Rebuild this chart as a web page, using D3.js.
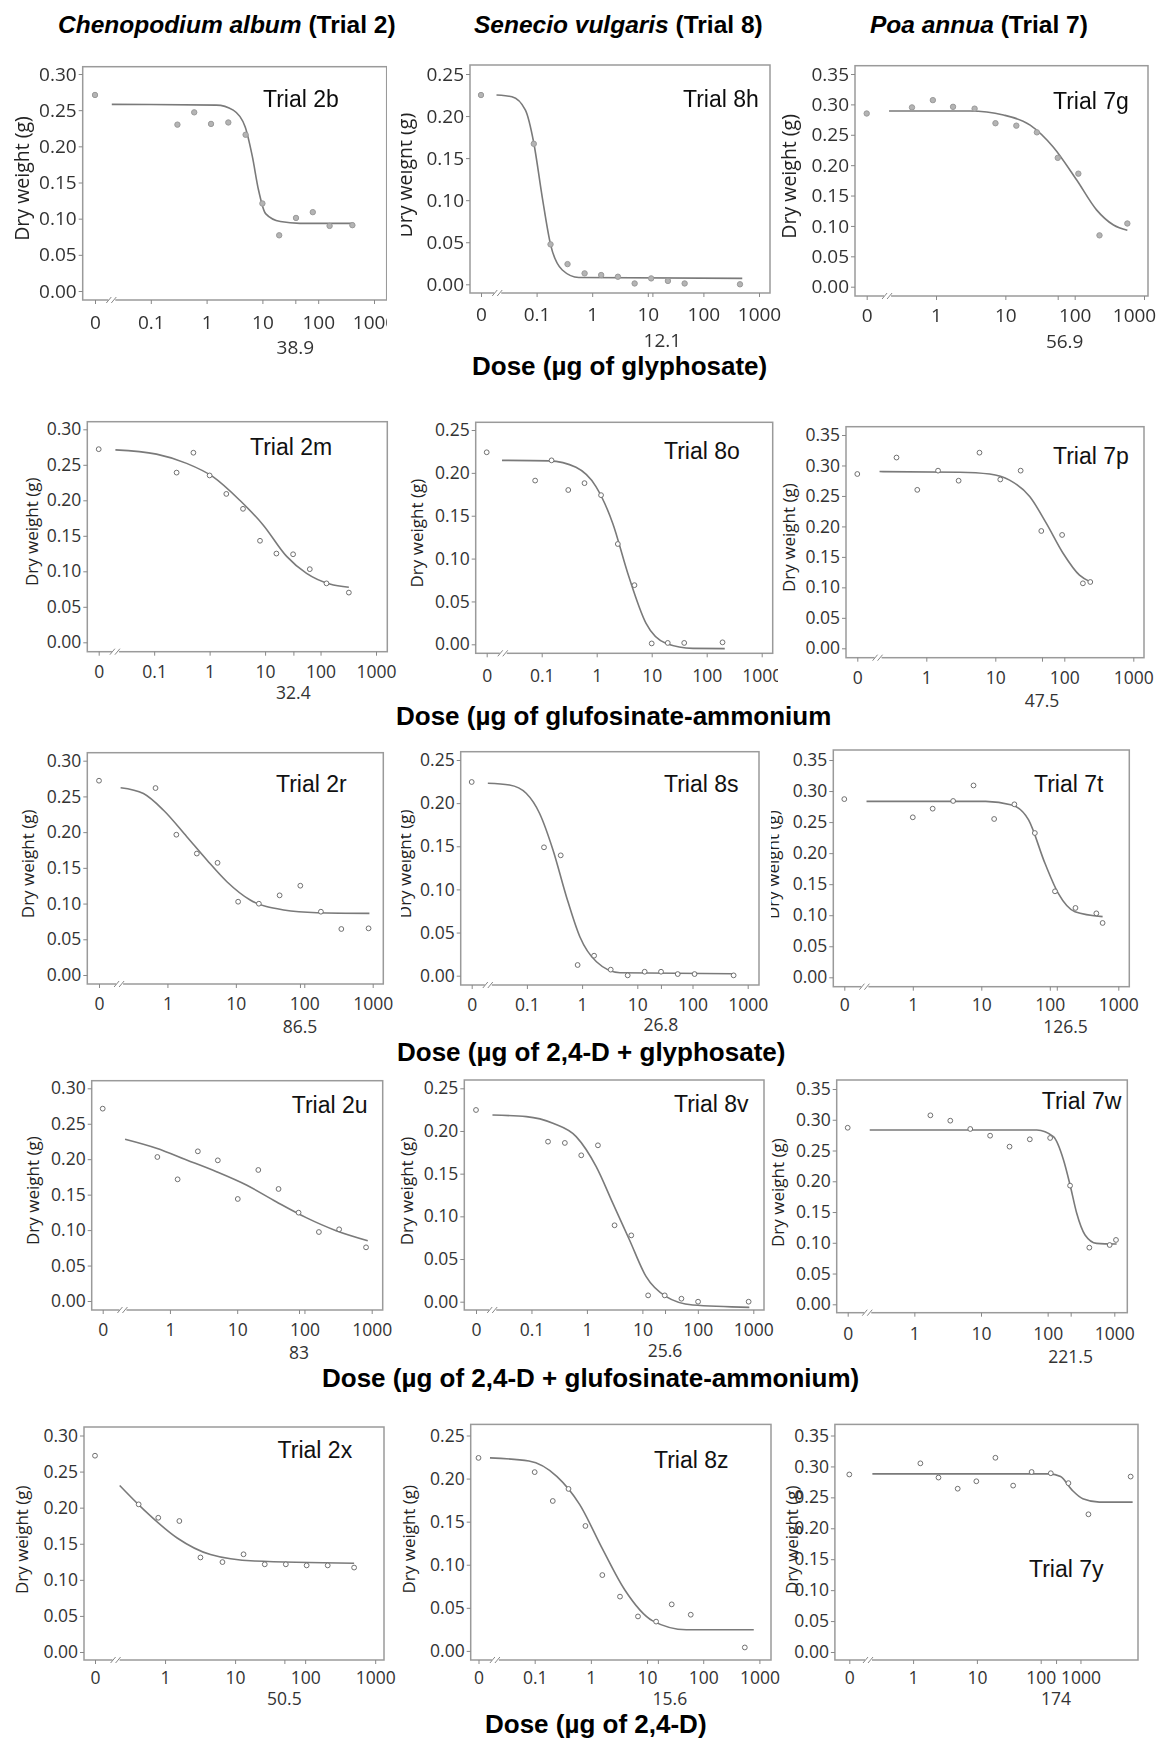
<!DOCTYPE html>
<html>
<head>
<meta charset="utf-8">
<script src="https://cdn.jsdelivr.net/npm/d3@7"></script>
<style>
  body { margin: 0; background: #fff; }
  svg { display: block; }
  .tick text { font-family: "Open Sans", sans-serif; fill: #333; }
</style>
</head>
<body>
<script>
// ---------------- data ----------------
// Column (species) titles: italic part, plain part
const speciesTitles = [
  ["Chenopodium album", " (Trial 2)"],
  ["Senecio vulgaris", " (Trial 8)"],
  ["Poa annua", " (Trial 7)"]
];
// Row (herbicide) titles
const doseTitles = [
  "Dose (µg of glyphosate)",
  "Dose (µg of glufosinate-ammonium",
  "Dose (µg of 2,4-D + glyphosate)",
  "Dose (µg of 2,4-D + glufosinate-ammonium)",
  "Dose (µg of 2,4-D)"
];
// Panels in reading order (row by row)
const trialNames = ["Trial 2b", "Trial 8h", "Trial 7g",
                    "Trial 2m", "Trial 8o", "Trial 7p",
                    "Trial 2r", "Trial 8s", "Trial 7t",
                    "Trial 2u", "Trial 8v", "Trial 7w",
                    "Trial 2x", "Trial 8z", "Trial 7y"];
const yMax = [0.30, 0.25, 0.35, 0.30, 0.25, 0.35, 0.30, 0.25, 0.35,
              0.30, 0.25, 0.35, 0.30, 0.25, 0.35];
// ED50 marked on the dose axis (null = not marked)
const ed50 = [38.9, 12.1, 56.9, 32.4, null, 47.5, 86.5, 26.8, 126.5,
              83, 25.6, 221.5, 50.5, 15.6, 174];
// Dose-axis tick values and their printed labels
const xTickDoses = [
  [0.1, 1, 10, 100, 1000], [0.1, 1, 10, 100, 1000], [1, 10, 100, 1000],
  [0.1, 1, 10, 100, 1000], [0.1, 1, 10, 100, 1000], [1, 10, 100, 1000],
  [1, 10, 100, 1000], [0.1, 1, 10, 100, 1000], [1, 10, 100, 1000],
  [1, 10, 100, 1000], [0.1, 1, 10, 100, 1000], [1, 10, 100, 1000],
  [1, 10, 100, 1000], [0.1, 1, 10, 100, 1000], [1, 10, 100, 420]
];
const xTickText = [
  ["0.1", "1", "10", "100", "1000"], ["0.1", "1", "10", "100", "1000"], ["1", "10", "100", "1000"],
  ["0.1", "1", "10", "100", "1000"], ["0.1", "1", "10", "100", "1000"], ["1", "10", "100", "1000"],
  ["1", "10", "100", "1000"], ["0.1", "1", "10", "100", "1000"], ["1", "10", "100", "1000"],
  ["1", "10", "100", "1000"], ["0.1", "1", "10", "100", "1000"], ["1", "10", "100", "1000"],
  ["1", "10", "100", "1000"], ["0.1", "1", "10", "100", "1000"], ["1", "10", "100", "1000"]
];
// Observed dry weights (g) by dose (µg); dose 0 = untreated control
const obsDose = [
  [0, 0.3, 0.6, 1.2, 2.45, 5, 10, 20, 40, 80, 160, 410],
  [0, 0.089, 0.178, 0.36, 0.73, 1.45, 2.9, 5.8, 11.5, 23, 46, 455],
  [0, 0.45, 0.9, 1.76, 3.6, 7.2, 14.4, 28.5, 57, 113, 228, 575],
  [0, 0.254, 0.51, 1.0, 2.0, 4.0, 8.1, 16, 32, 64, 128, 324],
  [0, 0.076, 0.151, 0.304, 0.60, 1.2, 2.42, 4.86, 10, 19.6, 39, 194],
  [0, 0.37, 0.74, 1.48, 2.94, 5.9, 11.8, 23.3, 46.4, 93, 186, 238],
  [0, 0.67, 1.35, 2.69, 5.4, 10.8, 21.7, 43.6, 87.5, 175, 348, 870],
  [0, 0.204, 0.41, 0.83, 1.65, 3.3, 6.7, 13.6, 26.9, 54, 109, 556],
  [0, 1.0, 1.95, 3.88, 7.7, 15.4, 30.4, 60.5, 119, 237, 478, 590],
  [0, 0.65, 1.3, 2.6, 5.15, 10.2, 20.6, 41.2, 81.8, 164, 328, 824],
  [0, 0.199, 0.40, 0.79, 1.58, 3.15, 6.3, 12.7, 25.3, 50.6, 101, 824],
  [0, 1.74, 3.46, 6.9, 13.7, 26.8, 54, 109, 217, 422, 852, 1060],
  [0, 0.42, 0.8, 1.6, 3.2, 6.6, 13.2, 26.5, 53, 105, 210, 500],
  [0, 0.1, 0.21, 0.4, 0.8, 1.6, 3.3, 6.9, 14.5, 27.5, 60, 550],
  [0, 1.3, 2.5, 5, 9.8, 19.5, 37, 72, 144, 272, 560, 2570]
];
const obsWeight = [
  [0.271, 0.230, 0.247, 0.231, 0.233, 0.216, 0.121, 0.077, 0.101, 0.109, 0.090, 0.091],
  [0.225, 0.167, 0.0475, 0.024, 0.013, 0.011, 0.009, 0.001, 0.007, 0.004, 0.001, 0.000],
  [0.285, 0.295, 0.307, 0.296, 0.293, 0.269, 0.265, 0.254, 0.212, 0.186, 0.0845, 0.104],
  [0.272, 0.239, 0.267, 0.235, 0.209, 0.188, 0.143, 0.125, 0.124, 0.103, 0.083, 0.070],
  [0.224, 0.191, 0.2146, 0.180, 0.188, 0.174, 0.117, 0.069, 0.001, 0.0016, 0.0016, 0.0023],
  [0.286, 0.313, 0.260, 0.2915, 0.275, 0.321, 0.277, 0.2915, 0.1925, 0.186, 0.1066, 0.1088],
  [0.272, 0.2617, 0.1964, 0.170, 0.157, 0.1026, 0.0998, 0.1115, 0.125, 0.0886, 0.0644, 0.0653],
  [0.2245, 0.1488, 0.1395, 0.0124, 0.0232, 0.007, 0.0004, 0.0046, 0.0046, 0.0019, 0.0019, 0.0004],
  [0.287, 0.2577, 0.2716, 0.284, 0.309, 0.255, 0.2786, 0.2324, 0.1385, 0.1117, 0.103, 0.0875],
  [0.2713, 0.2031, 0.1716, 0.2111, 0.1984, 0.1439, 0.1848, 0.158, 0.1246, 0.0973, 0.1011, 0.0757],
  [0.2246, 0.1875, 0.186, 0.1715, 0.1832, 0.0895, 0.0777, 0.0074, 0.0074, 0.0035, 0.0, 0.0],
  [0.287, 0.3072, 0.2985, 0.285, 0.2741, 0.2563, 0.2682, 0.2704, 0.1929, 0.0921, 0.0964, 0.1046],
  [0.272, 0.2046, 0.186, 0.1815, 0.131, 0.1246, 0.1354, 0.1215, 0.1215, 0.120, 0.120, 0.117],
  [0.224, 0.2075, 0.174, 0.188, 0.145, 0.088, 0.063, 0.040, 0.034, 0.054, 0.042, 0.004],
  [0.287, 0.305, 0.282, 0.264, 0.276, 0.314, 0.269, 0.291, 0.289, 0.273, 0.2226, 0.2836]
];
// Fitted dose-response curves, as knots along each fitted line
const fitDose = [
  [0.02, 1.5, 3, 4.9, 6.6, 8.5, 11.4, 21, 47, 430],
  [0.019, 0.036, 0.063, 0.089, 0.126, 0.178, 0.29, 0.575, 500],
  [0.21, 3.1, 9.4, 22.8, 49, 107, 208, 363, 575],
  [0.02, 0.11, 0.385, 1.16, 3.5, 9.3, 24.5, 56, 147, 324],
  [0.019, 0.137, 0.42, 0.97, 1.96, 3.67, 7.9, 18.4, 56, 213],
  [0.21, 3.04, 8.3, 16.1, 31.5, 55, 96, 166, 238],
  [0.207, 0.446, 0.87, 1.92, 3.77, 7.4, 16.2, 50, 153, 895],
  [0.0196, 0.0484, 0.097, 0.17, 0.297, 0.52, 0.91, 1.82, 4.84, 556],
  [0.211, 11.6, 28, 49, 85, 133, 233, 590],
  [0.215, 0.63, 1.77, 4.92, 13.7, 38, 106, 296, 874],
  [0.0198, 0.081, 0.244, 0.64, 1.47, 2.94, 5.86, 11.7, 26.8, 81, 847],
  [0.214, 68.7, 122, 173, 217, 273, 364, 543, 1084],
  [0.225, 0.5, 1.49, 4.45, 19, 500],
  [0.016, 0.079, 0.25, 0.63, 1.6, 4.0, 12.6, 50, 794],
  [0.23, 138, 205, 308, 457, 832, 2760]
];
const fitWeight = [
  [0.258, 0.257, 0.250, 0.227, 0.186, 0.140, 0.107, 0.096, 0.0935, 0.0935],
  [0.225, 0.223, 0.207, 0.168, 0.104, 0.0475, 0.017, 0.008, 0.007],
  [0.289, 0.289, 0.2825, 0.266, 0.230, 0.1755, 0.126, 0.1015, 0.093],
  [0.271, 0.265, 0.252, 0.233, 0.200, 0.165, 0.121, 0.097, 0.082, 0.0775],
  [0.2146, 0.214, 0.2065, 0.184, 0.141, 0.083, 0.0245, 0.001, -0.0047, -0.005],
  [0.290, 0.289, 0.286, 0.276, 0.249, 0.205, 0.156, 0.120, 0.109],
  [0.2622, 0.254, 0.231, 0.1936, 0.161, 0.1306, 0.105, 0.091, 0.0872, 0.0863],
  [0.223, 0.221, 0.2114, 0.188, 0.1457, 0.0916, 0.0452, 0.0162, 0.0035, 0.0023],
  [0.2834, 0.2834, 0.2775, 0.2534, 0.1836, 0.1353, 0.1057, 0.0977],
  [0.228, 0.2153, 0.1989, 0.1824, 0.1636, 0.140, 0.1176, 0.0992, 0.0851],
  [0.2187, 0.2168, 0.209, 0.1934, 0.1582, 0.1152, 0.0723, 0.0293, 0.0059, -0.0039, -0.0066],
  [0.2834, 0.2834, 0.2725, 0.2346, 0.194, 0.1479, 0.1127, 0.0991, 0.098],
  [0.2308, 0.197, 0.158, 0.135, 0.126, 0.123],
  [0.224, 0.2204, 0.2023, 0.170, 0.1186, 0.0709, 0.0348, 0.0245, 0.0245],
  [0.288, 0.288, 0.2836, 0.262, 0.2477, 0.2423, 0.2423]
];

// ---------------- layout ----------------
// b: plot frame [left, top, right, bottom]; xd/xr: log dose domain -> pixels
// (the lower domain end is where the 0-dose control sits); yr: pixels for [0, yMax]
const panelLayout = [
  {b:[82.7,66.7,386.7,300],   xd:[0.01,1000], xr:[95,374],       yr:[291,74],        yl:21.7,  tr:[263,107],    lab:22,   edY:47,   edDx:0,   clipR:386.5},
  {b:[470,65,770,293],        xd:[0.01,1000], xr:[481,759],      yr:[284.3,74],      yl:405,   tr:[683,107],    lab:21,   edY:47,   edDx:10,  clipL:401, clipR:781.5},
  {b:[855,65.7,1148,296],     xd:[0.1,1000],  xr:[866.7,1144],   yr:[286.7,74],      yl:789,   tr:[1053,109],   lab:19,   edY:45.7, edDx:7,   lastDx:-10},
  {b:[87.3,421.7,387.3,651.7],xd:[0.01,1000], xr:[98.7,376],     yr:[642.3,429.3],   yl:31.7,  tr:[250,455],    lab:20,   edY:41.6, edDx:0},
  {b:[475.7,422.3,772.7,653.3],xd:[0.01,1000],xr:[486.7,761.7],  yr:[644.3,430],     yl:416.7, tr:[664,459],    lab:22,   edY:42,   edDx:0,   clipR:778},
  {b:[846,426.7,1144,657.7],  xd:[0.1,1000],  xr:[857.3,1133.3], yr:[648.3,435],     yl:789,   tr:[1053,464],   lab:20,   edY:43,   edDx:0},
  {b:[87.3,752.7,383.3,984],  xd:[0.1,1000],  xr:[99,372.7],     yr:[975,760.7],     yl:28.3,  tr:[276,792],    lab:19.3, edY:42.7, edDx:0},
  {b:[460.7,751.7,759,985],   xd:[0.01,1000], xr:[471.7,747.7],  yr:[975.7,760],     yl:405,   tr:[664,792],    lab:19.3, edY:40.2, edDx:0,   clipL:401},
  {b:[833.3,750,1129.3,986.7],xd:[0.1,1000],  xr:[844.3,1118.3], yr:[977.3,760],     yl:773.3, tr:[1034,792],   lab:17.6, edY:40,   edDx:8.7, clipL:771},
  {b:[91.7,1080.7,382.7,1310],xd:[0.1,1000],  xr:[102.7,371.7],  yr:[1301,1088.3],   yl:33.3,  tr:[291.7,1113], lab:20,   edY:43.3, edDx:0},
  {b:[464.3,1080,764,1310],   xd:[0.01,1000], xr:[476,753.3],    yr:[1301.7,1088.3], yl:406.7, tr:[674,1112],   lab:20,   edY:41,   edDx:0,   clipL:400},
  {b:[836.7,1080,1127.3,1312.7],xd:[0.1,1000],xr:[847.7,1114.3], yr:[1304.3,1089],   yl:778.3, tr:[1041.7,1109],lab:20.6, edY:44,   edDx:0},
  {b:[84,1427,384,1660],      xd:[0.1,1000],  xr:[95,375.2],     yr:[1652,1435.5],   yl:22,    tr:[277.6,1458], lab:18,   edY:38.6, edDx:0},
  {b:[470.7,1424.4,771,1660], xd:[0.01,1000], xr:[478.5,759.4],  yr:[1650.9,1435.5], yl:408.6, tr:[654,1468],   lab:18,   edY:38.6, edDx:12},
  {b:[834.9,1424.4,1138,1660],xd:[0.1,1000],  xr:[849.3,1104.5], yr:[1652,1435.5],   yl:791.6, tr:[1029,1576.5],lab:18,   edY:38.6, edDx:0}
];
const colTitleLayout = [{x:58, y:33}, {x:474, y:33}, {x:870, y:33}];
const rowTitleLayout = [{x:472, y:375}, {x:396, y:725}, {x:397, y:1061}, {x:322, y:1387}, {x:485, y:1733}];

const W = 1159, H = 1740;
const sansBold = '"Liberation Sans", Arial, sans-serif';
const tickFont = '"Open Sans", sans-serif';

const svg = d3.select("body").append("svg").attr("width", W).attr("height", H);
const defs = svg.append("defs");
// the top row is printed slightly softer
defs.append("filter").attr("id", "soft")
  .append("feGaussianBlur").attr("stdDeviation", 0.45);

// ---------------- titles ----------------
speciesTitles.forEach((t, c) => {
  const txt = svg.append("text")
    .attr("x", colTitleLayout[c].x).attr("y", colTitleLayout[c].y)
    .style("font-family", sansBold).style("font-weight", "bold")
    .style("font-size", "24.5px").style("fill", "#000");
  txt.append("tspan").style("font-style", "italic").text(t[0]);
  txt.append("tspan").text(t[1]);
});
doseTitles.forEach((t, r) => {
  svg.append("text")
    .attr("x", rowTitleLayout[r].x).attr("y", rowTitleLayout[r].y)
    .style("font-family", sansBold).style("font-weight", "bold")
    .style("font-size", "26px").style("fill", "#000")
    .text(t);
});

// ---------------- panels ----------------
panelLayout.forEach((L, i) => {
  const big = i < 3;
  const fs = big ? 19 : 17.5;
  const [bl, bt, br, bb] = L.b;
  const x = d3.scaleLog().domain(L.xd).range(L.xr);
  const y = d3.scaleLinear().domain([0, yMax[i]]).range(L.yr);
  const zeroAt = L.xd[0];
  const px = d => x(d === 0 ? zeroAt : d);

  let g = svg.append("g");
  if (L.clipL != null || L.clipR != null) {
    const id = "clip" + i;
    const cl = L.clipL != null ? L.clipL : 0;
    const cr = L.clipR != null ? L.clipR : W;
    defs.append("clipPath").attr("id", id).append("rect")
      .attr("x", cl).attr("y", bt - 60).attr("width", cr - cl).attr("height", bb - bt + 130);
    g.attr("clip-path", `url(#${id})`);
  }
  if (big) g = g.append("g").attr("filter", "url(#soft)");

  // frame
  g.append("rect")
    .attr("x", bl).attr("y", bt).attr("width", br - bl).attr("height", bb - bt)
    .attr("fill", "none").attr("stroke", "#9a9a9a").attr("stroke-width", 1.5);

  // y axis
  const yTicks = d3.range(0, yMax[i] + 1e-6, 0.05);
  const ya = g.append("g").attr("transform", `translate(${bl},0)`)
    .call(d3.axisLeft(y).tickValues(yTicks).tickFormat(d3.format(".2f"))
      .tickSize(4).tickPadding(2));
  ya.select(".domain").remove();
  ya.selectAll(".tick line").attr("stroke", "#888");
  ya.selectAll(".tick text").style("font-size", fs + "px");

  // x axis (log dose, with control at the lower end)
  const ticks = [zeroAt, ...xTickDoses[i]];
  if (ed50[i] != null) ticks.push(ed50[i]);
  const nLab = xTickDoses[i].length;
  const xa = g.append("g").attr("transform", `translate(0,${bb})`)
    .call(d3.axisBottom(x).tickValues(ticks)
      .tickFormat((d, k) => k === 0 ? "0" : (k <= nLab ? xTickText[i][k - 1] : ""))
      .tickSize(4).tickPadding(L.lab - 0.35 * fs - 4));
  xa.select(".domain").remove();
  xa.selectAll(".tick line").attr("stroke", "#888");
  xa.selectAll(".tick text").style("font-size", fs + "px");
  if (L.lastDx) {
    xa.selectAll(".tick text").filter((d, k) => k === nLab).attr("dx", L.lastDx);
  }

  // axis break between the control and the log range
  const bx = x(zeroAt * 2);
  g.append("rect").attr("x", bx - 3.5).attr("y", bb - 2).attr("width", 7).attr("height", 4)
    .attr("fill", "#fff");
  [-3, 2].forEach(o => {
    g.append("line")
      .attr("x1", bx + o - 2.5).attr("y1", bb + 3)
      .attr("x2", bx + o + 2.5).attr("y2", bb - 3)
      .attr("stroke", "#888").attr("stroke-width", 1);
  });

  // ED50 value under its tick
  if (ed50[i] != null) {
    g.append("text")
      .attr("x", x(ed50[i]) + L.edDx).attr("y", bb + L.edY).attr("dy", "0.35em")
      .attr("text-anchor", "middle")
      .style("font-family", tickFont).style("font-size", fs + "px").style("fill", "#333")
      .text(String(ed50[i]));
  }

  // y label
  const yc = (y(0) + y(yMax[i])) / 2 - 4;
  g.append("text")
    .attr("transform", `translate(${L.yl},${yc}) rotate(-90)`)
    .attr("text-anchor", "middle").attr("dy", "0.35em")
    .style("font-family", tickFont).style("font-size", (big ? 19.5 : 17) + "px")
    .style("fill", "#222")
    .text("Dry weight (g)");

  // fitted curve
  const fit = fitDose[i].map((d, k) => [d, fitWeight[i][k]]);
  g.append("path")
    .datum(fit)
    .attr("fill", "none").attr("stroke", "#7a7a7a").attr("stroke-width", 1.6)
    .attr("d", d3.line().x(d => x(d[0])).y(d => y(d[1])).curve(d3.curveMonotoneX));

  // observations
  const obs = obsDose[i].map((d, k) => [d, obsWeight[i][k]]);
  g.selectAll("circle.obs").data(obs).join("circle")
    .attr("class", "obs")
    .attr("cx", d => px(d[0])).attr("cy", d => y(d[1]))
    .attr("r", big ? 2.7 : 2.4)
    .attr("fill", big ? "#b4b4b4" : "#fff")
    .attr("stroke", big ? "#999" : "#707070")
    .attr("stroke-width", 1);

  // trial label
  g.append("text")
    .attr("x", L.tr[0]).attr("y", L.tr[1])
    .style("font-family", sansBold).style("font-size", "23px").style("fill", "#111")
    .text(trialNames[i]);
});
</script>
</body>
</html>
